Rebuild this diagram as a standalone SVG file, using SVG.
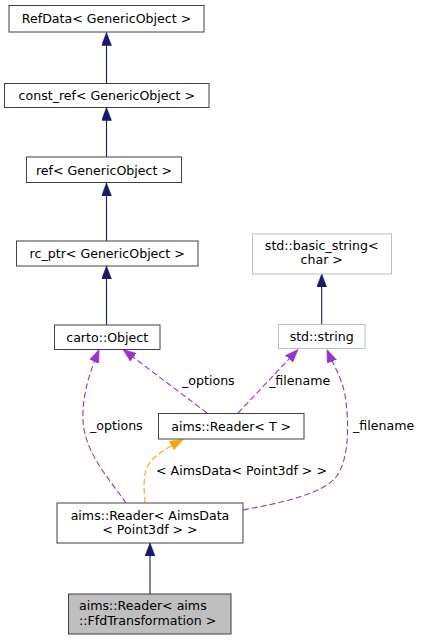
<svg xmlns="http://www.w3.org/2000/svg" width="423" height="640" viewBox="0 0 423 640">
<style>
text{font-family:"DejaVu Sans","Liberation Sans",sans-serif;font-size:12.6px;fill:#000}
.c{text-anchor:middle}
.l{text-anchor:start}
.n rect{fill:#fff;stroke:#404040;stroke-width:1}
.n.ext rect{stroke:#bfbfbf}
.n.cur rect{fill:#bfbfbf}
.e{fill:none;stroke-width:1.1}
.inh{stroke:#191970;marker-end:url(#aN)}
.use{stroke:#9a32cd;stroke-dasharray:6,3;marker-end:url(#aP)}
.tpl{stroke:#ffa500;stroke-dasharray:6,3;marker-end:url(#aO)}
</style>
<defs>
<marker id="aN" markerUnits="userSpaceOnUse" markerWidth="14" markerHeight="11" refX="13" refY="5" orient="auto"><path d="M0,0 L13,5 L0,10 z" fill="#191970" stroke="#191970" stroke-width="0.5"/></marker>
<marker id="aP" markerUnits="userSpaceOnUse" markerWidth="14" markerHeight="11" refX="13" refY="5" orient="auto"><path d="M0,0 L13,5 L0,10 z" fill="#9a32cd" stroke="#9a32cd" stroke-width="0.5"/></marker>
<marker id="aO" markerUnits="userSpaceOnUse" markerWidth="14" markerHeight="11" refX="13" refY="5" orient="auto"><path d="M0,0 L13,5 L0,10 z" fill="#ffa500" stroke="#ffa500" stroke-width="0.5"/></marker>
</defs>
<rect width="423" height="640" fill="#fff"/>
<g id="connectors">
<path class="e inh" d="M106.5,83 L106.5,32.5"/>
<path class="e inh" d="M106.5,157 L106.5,107.5"/>
<path class="e inh" d="M106.5,241 L106.5,183"/>
<path class="e inh" d="M106.5,325 L106.5,266"/>
<path class="e inh" d="M321.7,324.5 L321.7,274"/>
<path class="e inh" d="M150,594 L150,543"/>
<path class="e use" d="M207,413 L123,349.5"/>
<path class="e use" d="M238,413 L298,349.5"/>
<path class="e use" d="M126,503 C110,480 84,452 83,420 C82,395 90,372 99,349.5"/>
<path class="e use" d="M243,510 C280,503 323,494 336,477 C350,459 349,420 345,395 C342,378 332,362 327,349.5"/>
<path class="e tpl" d="M145,503 C144,488 142,472 151,461 C157,454 167,448 183,439.5"/>
<text class="l" x="182" y="384.5">_options</text>
<text class="l" x="269" y="384.5">_filename</text>
<text class="l" x="90" y="430">_options</text>
<text class="l" x="353" y="430">_filename</text>
<text class="l" x="156" y="474.5">&lt; AimsData&lt; Point3df &gt; &gt;</text>
</g>
<g id="node-refdata" class="n"><rect x="9" y="5.5" width="195" height="26.5"/><text class="c" x="106.5" y="22.5">RefData&lt; GenericObject &gt;</text></g>
<g id="node-const-ref" class="n"><rect x="4.5" y="83.5" width="204.5" height="24"/><text class="c" x="106.8" y="99.5">const_ref&lt; GenericObject &gt;</text></g>
<g id="node-ref" class="n"><rect x="26.5" y="157" width="155" height="25.5"/><text class="c" x="104" y="174.5">ref&lt; GenericObject &gt;</text></g>
<g id="node-rc-ptr" class="n"><rect x="16.5" y="241" width="181.5" height="25"/><text class="c" x="107.2" y="257.5">rc_ptr&lt; GenericObject &gt;</text></g>
<g id="node-carto-object" class="n"><rect x="54.5" y="325" width="105.5" height="24.5"/><text class="c" x="107.2" y="341.5">carto::Object</text></g>
<g id="node-basic-string" class="n ext"><rect x="252.5" y="234" width="139" height="40"/><text class="c" x="321.7" y="250">std::basic_string&lt;</text><text class="c" x="321.7" y="264">char &gt;</text></g>
<g id="node-std-string" class="n ext"><rect x="278.5" y="324.5" width="86.5" height="24"/><text class="c" x="321.7" y="340.5">std::string</text></g>
<g id="node-reader-t" class="n"><rect x="158.5" y="413.5" width="145.5" height="25.5"/><text class="c" x="231.2" y="430.5">aims::Reader&lt; T &gt;</text></g>
<g id="node-reader-aimsdata" class="n"><rect x="57" y="503" width="186" height="40"/><text class="c" x="150" y="519.5">aims::Reader&lt; AimsData</text><text class="c" x="150" y="533.5">&lt; Point3df &gt; &gt;</text></g>
<g id="node-reader-ffd" class="n cur"><rect x="68.5" y="594" width="162.5" height="40"/><text class="l" x="79" y="609.5">aims::Reader&lt; aims</text><text class="l" x="79" y="624.5">::FfdTransformation &gt;</text></g>
</svg>
